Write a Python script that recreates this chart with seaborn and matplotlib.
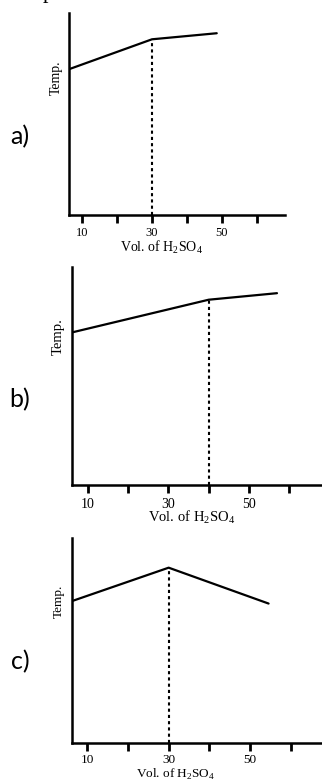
import matplotlib
matplotlib.use("Agg")
import matplotlib.pyplot as plt
import seaborn as sns

# panel a: slope then flatter after end point (30)
a_vol = [6, 30, 48.5]
a_temp = [72, 87, 90]
a_end = 30

# panel b: end point at 40
b_vol = [6, 40, 57]
b_temp = [70, 85, 88]
b_end = 40

# panel c: rises to a peak at 30 then falls
c_vol = [6, 30, 54.5]
c_temp = [69, 85.5, 68]
c_end = 30

tick_pos = [10, 20, 30, 40, 50, 60]
tick_lab = ["10", "", "30", "", "50", ""]
panel_names = ["a)", "b)", "c)"]

sns.set_style("ticks")
plt.rcParams['font.family'] = ['Liberation Serif', 'DejaVu Serif']
plt.rcParams['mathtext.fontset'] = 'custom'
plt.rcParams['mathtext.rm'] = 'Liberation Serif'
plt.rcParams['text.color'] = 'black'
plt.rcParams['axes.labelcolor'] = 'black'
plt.rcParams['xtick.color'] = 'black'
plt.rcParams['xtick.labelcolor'] = 'black'

fig = plt.figure(figsize=(3.22, 7.81), dpi=100)

# (x, y, end, axes rect, xlim, tick pad, ylabel coords, xlabel coords,
#  tick font, label font, panel label y)
panels = [
    (a_vol, a_temp, a_end, [0.2143, 0.7247, 0.6708, 0.2586], (6.3, 68), 2.5,
     (-0.028, 0.678), (0.43, -0.117), 9, 10, 1 - 137 / 781),
    (b_vol, b_temp, b_end, [0.2236, 0.3790, 0.7764, 0.2791], (6.0, 68.2), 3.5,
     (-0.028, 0.683), (0.48, -0.108), 10, 10.5, 1 - 400 / 781),
    (c_vol, c_temp, c_end, [0.2236, 0.0487, 0.7764, 0.2625], (6.3, 67.6), 2.0,
     (-0.028, 0.693), (0.416, -0.117), 9.5, 9.5, 1 - 662 / 781),
]

for i, (xv, yv, xend, rect, xlim, pad, ylc, xlc, tfs, fs, ly) in enumerate(panels):
    ax = fig.add_axes(rect)
    sns.lineplot(x=xv, y=yv, ax=ax, color="black", linewidth=1.6, sort=False)
    # dotted line down from the end point
    ax.vlines(xend, 0, yv[1], colors="black", linestyles=(0, (1.5, 1.5)),
              linewidth=1.5)
    ax.set_xlim(*xlim)
    ax.set_ylim(0, 100)
    ax.set_xticks(tick_pos)
    ax.set_xticklabels(tick_lab, fontsize=tfs)
    ax.set_yticks([])
    ax.tick_params(axis="x", direction="out", length=6, width=2,
                   color="black", pad=pad)
    sns.despine(ax=ax)
    for s in ["left", "bottom"]:
        ax.spines[s].set_linewidth(1.8)
        ax.spines[s].set_color("black")
    ax.set_ylabel("Temp.", fontsize=fs)
    ax.yaxis.set_label_coords(*ylc)
    ax.set_xlabel(r"Vol. of H$_\mathregular{2}$SO$_\mathregular{4}$", fontsize=fs)
    ax.xaxis.set_label_coords(*xlc)
    fig.text(20 / 322, ly, panel_names[i], ha="center", va="center",
             fontsize=18, color="black", family=["Lato", "DejaVu Sans"])

# cut-off glyph at the very top of the image
fig.text(48 / 322, 1 + 2 / 781, "p", ha="center", va="baseline", fontsize=16)

fig.savefig("out.png", dpi=100)
